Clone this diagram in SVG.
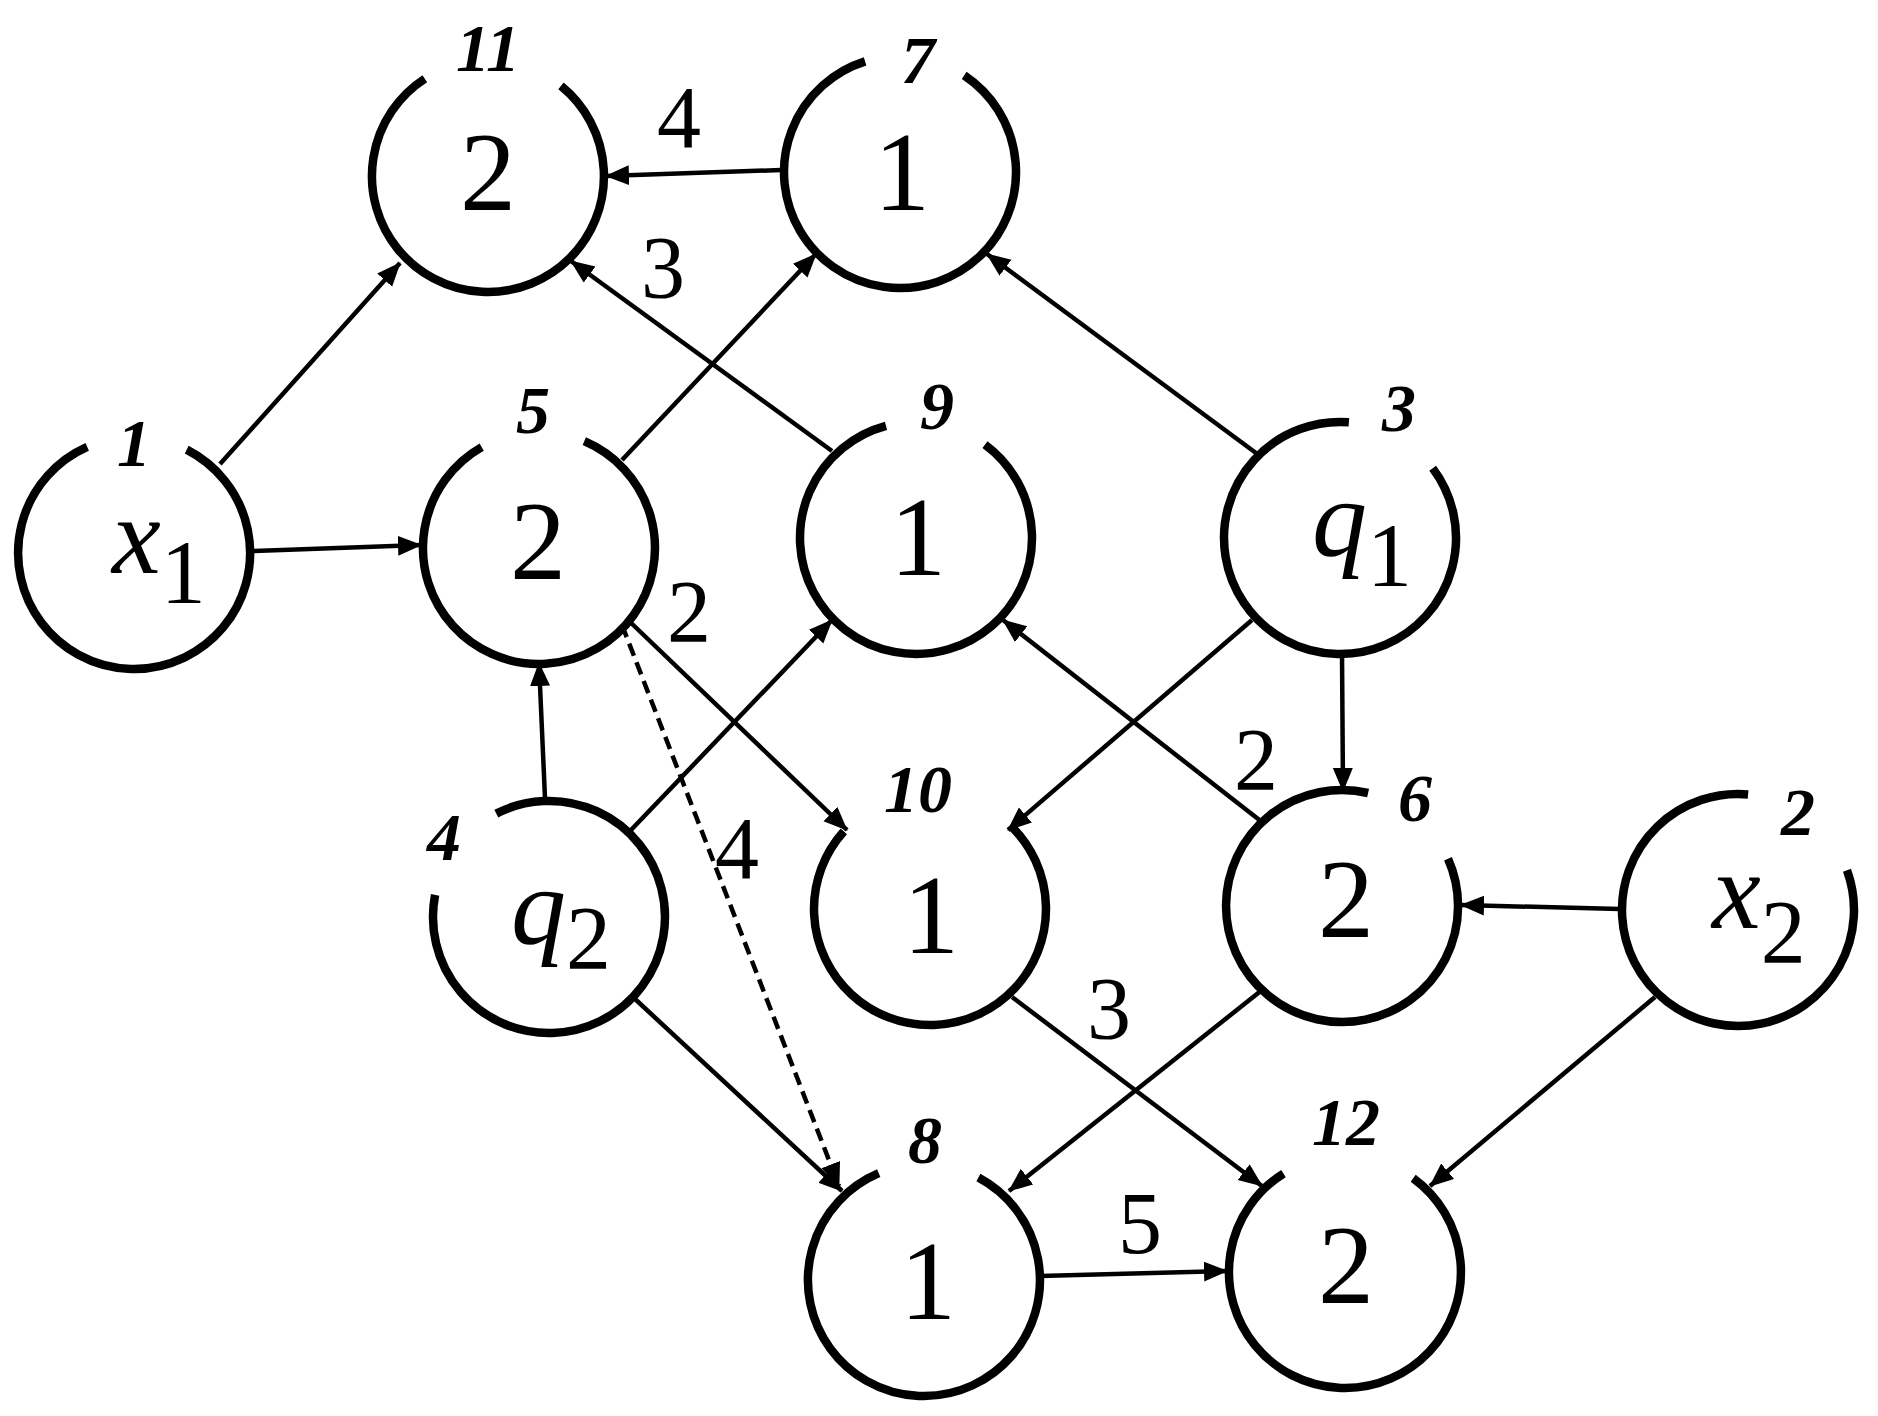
<svg xmlns="http://www.w3.org/2000/svg" width="1878" height="1416" viewBox="0 0 1878 1416">
<style>
.ring{fill:none;stroke:#000;stroke-width:8.5}
.e{stroke:#000;stroke-width:4.5;fill:none;marker-end:url(#ah)}
.d{stroke-dasharray:13 7}
text{font-family:'Liberation Serif','Times New Roman',Times,serif}
.val{font-size:112px;text-anchor:middle}
.id{font-size:68px;font-style:italic;font-weight:bold;text-anchor:middle}
.w{font-size:88px;text-anchor:middle}
.var{font-size:110px;font-style:italic}
.sub{font-size:90px;font-style:normal}
</style>
<defs>
<marker id="ah" markerUnits="userSpaceOnUse" markerWidth="24" markerHeight="22" refX="23" refY="10" orient="auto">
<path d="M0,0 L24,10 L0,20 z" fill="#000"/>
</marker>
</defs>
<rect width="1878" height="1416" fill="#fff"/>
<g id="connectors">
<line class="e" x1="220" y1="464" x2="400" y2="263"/>
<line class="e" x1="252" y1="551" x2="421" y2="545"/>
<line class="e" x1="781" y1="170" x2="606" y2="176"/>
<line class="e" x1="832" y1="451" x2="571" y2="261"/>
<line class="e" x1="622" y1="460" x2="816" y2="254"/>
<line class="e" x1="1256" y1="453" x2="987" y2="254"/>
<line class="e" x1="628" y1="620" x2="847" y2="830"/>
<line class="e d" x1="622" y1="625" x2="839" y2="1186"/>
<line class="e" x1="545" y1="798" x2="539" y2="663"/>
<line class="e" x1="631" y1="830" x2="832" y2="620"/>
<line class="e" x1="635" y1="999" x2="842" y2="1191"/>
<line class="e" x1="1252" y1="620" x2="1008" y2="830"/>
<line class="e" x1="1342" y1="654" x2="1343" y2="791"/>
<line class="e" x1="1262" y1="822" x2="1003" y2="620"/>
<line class="e" x1="1620" y1="909" x2="1461" y2="905"/>
<line class="e" x1="1262" y1="990" x2="1009" y2="1191"/>
<line class="e" x1="1012" y1="997" x2="1262" y2="1186"/>
<line class="e" x1="1655" y1="997" x2="1430" y2="1186"/>
<line class="e" x1="1040" y1="1276" x2="1227" y2="1271"/>
<text class="w" x="679" y="147">4</text>
<text class="w" x="663" y="297">3</text>
<text class="w" x="689" y="641">2</text>
<text class="w" x="737" y="878">4</text>
<text class="w" x="1256" y="789">2</text>
<text class="w" x="1109" y="1038">3</text>
<text class="w" x="1140" y="1253">5</text>
</g>
<g id="node11">
<path class="ring" d="M561,85.9 A116,116 0 1 1 424.8,78.7"/>
<text class="id" x="488" y="71">11</text>
<text class="val" x="488" y="210">2</text>
</g>
<g id="node7">
<path class="ring" d="M964.2,75.4 A116,116 0 1 1 865.1,61.4"/>
<text class="id" x="918" y="83">7</text>
<text class="val" x="902" y="210">1</text>
</g>
<g id="node1">
<path class="ring" d="M186.7,449.6 A116,116 0 1 1 87.2,446.9"/>
<text class="id" x="134" y="466">1</text>
<text class="var" x="112" y="573">x<tspan class="sub" dy="30">1</tspan></text>
</g>
<g id="node5">
<path class="ring" d="M584.3,441.2 A116,116 0 1 1 481.7,447.1"/>
<text class="id" x="533" y="433">5</text>
<text class="val" x="538" y="579">2</text>
</g>
<g id="node9">
<path class="ring" d="M985,444.7 A116,116 0 1 1 886,425.9"/>
<text class="id" x="937" y="429">9</text>
<text class="val" x="918" y="575">1</text>
</g>
<g id="node3">
<path class="ring" d="M1432.7,468.2 A116,116 0 1 1 1348.9,422.3"/>
<text class="id" x="1399" y="431">3</text>
<text class="var" x="1312" y="556">q<tspan class="sub" dy="30">1</tspan></text>
</g>
<g id="node4">
<path class="ring" d="M496.3,813.6 A116,116 0 1 1 435.1,894.9"/>
<text class="id" x="444" y="860">4</text>
<text class="var" x="511" y="944">q<tspan class="sub" dy="25">2</tspan></text>
</g>
<g id="node10">
<path class="ring" d="M1010.6,825.6 A116,116 0 1 1 843.8,831.4"/>
<text class="id" x="918" y="812">10</text>
<text class="val" x="931" y="953">1</text>
</g>
<g id="node6">
<path class="ring" d="M1448,858.8 A116,116 0 1 1 1368.1,793"/>
<text class="id" x="1415" y="821">6</text>
<text class="val" x="1346" y="937">2</text>
</g>
<g id="node2">
<path class="ring" d="M1847,870.3 A116,116 0 1 1 1748.1,794.4"/>
<text class="id" x="1798" y="835">2</text>
<text class="var" x="1712" y="928">x<tspan class="sub" dy="35">2</tspan></text>
</g>
<g id="node8">
<path class="ring" d="M978.4,1177.6 A116,116 0 1 1 878.7,1173.2"/>
<text class="id" x="925" y="1163">8</text>
<text class="val" x="928" y="1319">1</text>
</g>
<g id="node12">
<path class="ring" d="M1413.2,1178.2 A116,116 0 1 1 1283.5,1173.6"/>
<text class="id" x="1346" y="1145">12</text>
<text class="val" x="1346" y="1303">2</text>
</g>
</svg>
